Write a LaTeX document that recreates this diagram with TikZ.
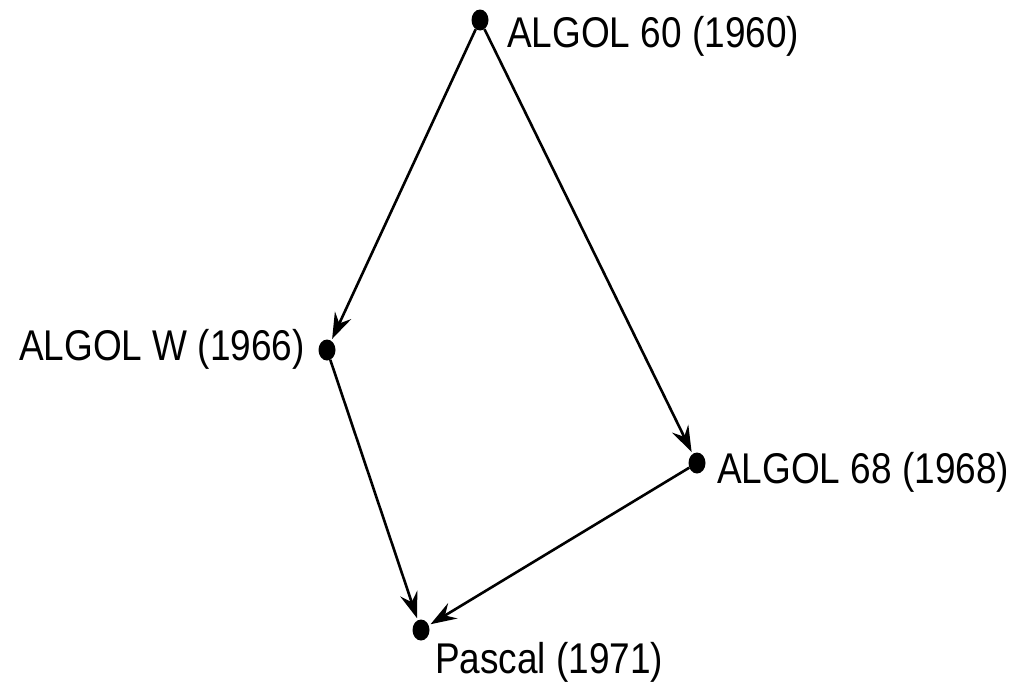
\documentclass[tikz,border=0pt]{standalone}
\usepackage{fontspec}
\setmainfont{Liberation Sans}[FakeStretch=0.86]
\usetikzlibrary{arrows.meta,positioning,shapes.geometric}

\begin{document}
\begin{tikzpicture}[x=1pt,y=-1pt,>={Stealth[length=26pt,width=18pt,inset=9pt]},
  dot/.style={ellipse,fill=black,inner sep=0pt,minimum width=17pt,minimum height=21pt},
  lbl/.style={inner sep=0pt,font=\fontsize{43}{48}\selectfont},
  link/.style={->,line width=2.6pt,shorten >=2pt}]
  \useasboundingbox (0,0) rectangle (1015,688);
  \node[dot] (a60) at (480,20) {};
  \node[dot] (aw) at (327,350) {};
  \node[dot] (a68) at (697,463) {};
  \node[dot] (pas) at (421,630) {};
  \node[lbl,anchor=base west] (a60l) at (507,47) {ALGOL 60 (1960)};
  \node[lbl,anchor=base east] (awl) at (305,360) {ALGOL W (1966)};
  \node[lbl,anchor=base west] (a68l) at (717,483) {ALGOL 68 (1968)};
  \node[lbl,anchor=base west] (pasl) at (435,673) {Pascal (1971)};
  \draw[link] (a60) -- (aw);
  \draw[link] (a60) -- (a68);
  \draw[link] (aw) -- (pas);
  \draw[link] (a68) -- (pas);
\end{tikzpicture}
\end{document}
